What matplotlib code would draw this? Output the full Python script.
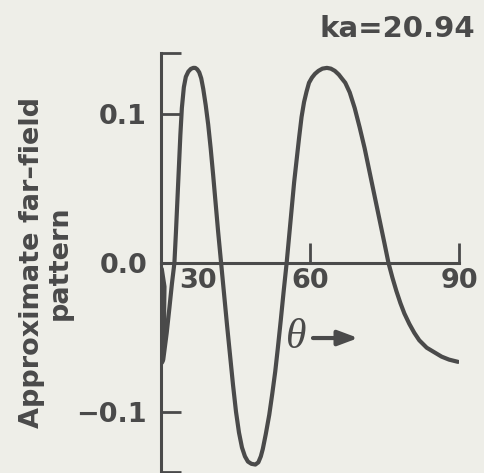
import matplotlib
matplotlib.use("Agg")
import matplotlib.pyplot as plt
from matplotlib.transforms import ScaledTranslation

# ---- data (theta in degrees, pattern value) ----
theta = [30.15, 30.7, 30.6, 30.25, 30.2, 30.45, 31.15, 31.7, 32.2, 32.7,
         33.0, 33.3, 33.6, 33.9, 34.2, 34.6, 35.0, 35.5, 36.0, 36.5,
         36.9, 37.3, 37.7, 38.1, 38.5, 39.0, 39.5, 40.0, 40.5, 41.0,
         41.5, 42.1, 42.7, 43.3, 43.9, 44.5, 45.1, 45.7, 46.3, 46.9,
         47.5, 48.2, 49.0, 49.6, 50.1, 50.5, 51.1, 51.8, 52.4, 53.0,
         53.5, 54.1, 54.7, 55.3, 55.8, 56.3, 56.8, 57.3, 57.8, 58.3,
         58.8, 59.3, 59.8, 60.4, 61.0, 61.7, 62.5, 63.4, 64.2, 65.0,
         65.8, 66.5, 67.1, 68.0, 69.0, 70.0, 71.0, 72.0, 73.0, 74.0,
         75.0, 75.8, 76.6, 77.4, 78.2, 79.0, 80.0, 81.0, 82.0, 83.5,
         85.0, 86.5, 88.0, 89.8]
pattern = [-0.004, -0.016, -0.040, -0.062, -0.067, -0.065, -0.047, -0.030, -0.014, 0.000,
           0.020, 0.042, 0.064, 0.086, 0.104, 0.118, 0.125, 0.1285, 0.1303, 0.131,
           0.131, 0.130, 0.128, 0.124, 0.117, 0.106, 0.093, 0.077, 0.059, 0.040,
           0.021, 0.000, -0.021, -0.042, -0.062, -0.082, -0.100, -0.114, -0.124, -0.130,
           -0.1335, -0.135, -0.1355, -0.134, -0.130, -0.125, -0.115, -0.102, -0.088, -0.073,
           -0.058, -0.039, -0.019, 0.000, 0.018, 0.036, 0.054, 0.069, 0.084, 0.098,
           0.108, 0.115, 0.121, 0.1245, 0.127, 0.129, 0.1305, 0.131, 0.1305, 0.129,
           0.1265, 0.1235, 0.121, 0.1145, 0.104, 0.091, 0.077, 0.061, 0.045, 0.029,
           0.013, 0.000, -0.010, -0.019, -0.027, -0.034, -0.041, -0.047, -0.052, -0.057,
           -0.060, -0.063, -0.065, -0.0665]

x_ticks = [30, 60, 90]
x_ticklabels = ["30", "60", "90"]
y_lo, y_hi = -0.1405, 0.141
y_ticks = [y_lo, -0.1, 0.0, 0.1, y_hi]
y_ticklabels = ["", "\u22120.1", "0.0", "0.1", ""]
ylabel_text = "Approximate far\u2013field\npattern"
param_text = "ka=20.94"

ink = "#4a4a4a"
bg = "#eeeee8"

fig = plt.figure(figsize=(4.84, 4.73), dpi=100)
fig.patch.set_facecolor(bg)
ax = fig.add_axes([161 / 484, 1 / 473, 298 / 484, 419 / 473])
ax.set_facecolor("none")

ax.plot(theta, pattern, color=ink, lw=3.0, solid_joinstyle="round",
        solid_capstyle="round", zorder=3)

ax.set_xlim(30, 90)
ax.set_ylim(y_lo, y_hi)
for s in ["top", "right"]:
    ax.spines[s].set_visible(False)
ax.spines["bottom"].set_position(("data", 0))
for s in ["left", "bottom"]:
    ax.spines[s].set_linewidth(2.2)
    ax.spines[s].set_color(ink)

ax.set_xticks(x_ticks)
ax.set_xticklabels(x_ticklabels)
ax.set_yticks(y_ticks)
ax.set_yticklabels(y_ticklabels)

ax.tick_params(axis="x", direction="in", length=14.5, width=2.0, pad=4,
               labelsize=19.5, color=ink, labelcolor=ink)
ax.tick_params(axis="y", direction="in", length=14.5, width=2.0, pad=10,
               labelsize=19.5, color=ink, labelcolor=ink)
for lab in ax.get_xticklabels() + ax.get_yticklabels():
    lab.set_fontweight("bold")
    lab.set_family("DejaVu Sans")

# shift the "30" label to the right as in the reference
lab30 = ax.get_xticklabels()[0]
lab30.set_transform(lab30.get_transform() + ScaledTranslation(0.37, 0, fig.dpi_scale_trans))

ax.set_ylabel(ylabel_text, fontsize=19.5, fontweight="bold", color=ink,
              linespacing=1.1)
ax.yaxis.set_label_coords(-0.386, 0.5)
ax.yaxis.label.set_va("center")

# theta arrow annotation
ax.text(57.3, -0.0505, "\u03b8", fontsize=30, style="italic",
        family="Liberation Serif", color=ink, ha="center", va="center")
ax.annotate("", xy=(69.7, -0.0505), xytext=(60.6, -0.0505),
            arrowprops=dict(arrowstyle="-|>,head_length=0.8,head_width=0.3",
                            lw=3.0, color=ink, mutation_scale=15,
                            shrinkA=0, shrinkB=0))

fig.text(0.982, 0.922, param_text, ha="right", va="baseline", fontsize=21,
         fontweight="bold", color=ink)

fig.savefig("out.png", dpi=100, facecolor=bg)
